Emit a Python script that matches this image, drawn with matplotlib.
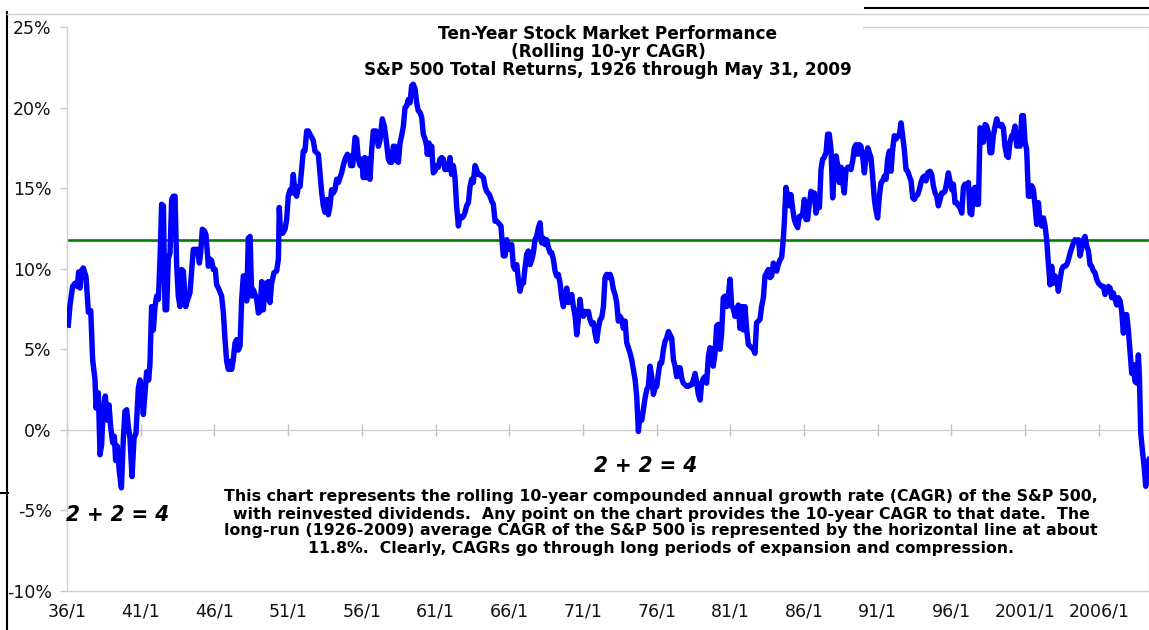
import matplotlib
matplotlib.use("Agg")
import matplotlib.pyplot as plt
from matplotlib.lines import Line2D

# Rolling 10-yr CAGR of S&P 500 total returns (%)
dates_1936 = [1936.09, 1936.20, 1936.38, 1936.54, 1936.70, 1936.79, 1936.88, 1936.99,
              1937.11, 1937.29, 1937.45, 1937.61, 1937.74, 1937.90, 1937.97, 1938.13,
              1938.24, 1938.35, 1938.46, 1938.60, 1938.74, 1938.85, 1938.96, 1939.10,
              1939.21, 1939.30, 1939.41, 1939.55, 1939.69, 1939.82, 1939.93, 1940.05,
              1940.16, 1940.27, 1940.41, 1940.55, 1940.68, 1940.84, 1940.95, 1941.09,
              1941.18, 1941.31, 1941.40, 1941.54, 1941.63, 1941.74, 1941.86, 1941.97,
              1942.08, 1942.20, 1942.31, 1942.42, 1942.54, 1942.65, 1942.76, 1942.87,
              1942.99, 1943.10, 1943.21, 1943.33, 1943.44, 1943.55, 1943.67, 1943.78,
              1943.89, 1944.05, 1944.19, 1944.34, 1944.46, 1944.57, 1944.73, 1944.86,
              1944.98, 1945.07, 1945.18, 1945.32, 1945.43, 1945.59, 1945.70, 1945.81,
              1945.93, 1946.06, 1946.15, 1946.27, 1946.49, 1946.61, 1946.72, 1946.83,
              1946.95, 1947.06, 1947.17, 1947.28, 1947.40, 1947.51, 1947.62, 1947.74,
              1947.85, 1947.96, 1948.08, 1948.19, 1948.30, 1948.42, 1948.53, 1948.64,
              1948.87, 1948.98, 1949.09, 1949.21, 1949.32, 1949.43, 1949.55, 1949.66,
              1949.77]
cagr_1936 = [6.5, 7.7, 8.9, 9.1, 8.9, 9.8, 8.8, 9.9,
             10.05, 9.5, 7.3, 7.4, 4.35, 3.1, 1.35, 2.3,
             -1.55, -0.9, 1.35, 2.1, 0.6, 1.55, 0.2, -0.8,
             -0.4, -1.9, -1.0, -2.6, -3.6, -0.6, 1.15, 1.25,
             0.2, -0.5, -2.9, -0.5, -0.2, 2.6, 3.1, 1.85,
             0.95, 2.5, 3.6, 3.1, 4.15, 7.65, 6.2, 7.65,
             8.3, 8.1, 10.6, 14.0, 13.9, 7.45, 7.45, 10.6,
             11.0, 14.3, 14.5, 14.5, 10.2, 8.3, 7.65, 9.95,
             9.85, 7.65, 8.1, 8.5, 9.95, 11.2, 11.2, 11.2,
             10.35, 11.0, 12.45, 12.35, 12.1, 10.15, 10.6, 10.5,
             9.95, 9.95, 9.0, 8.8, 8.3, 7.25, 5.6, 4.25,
             3.75, 4.25, 3.75, 4.35, 5.4, 5.6, 4.95, 5.2,
             8.1, 9.55, 9.55, 8.0, 11.9, 12.0, 8.3, 8.7,
             8.1, 7.25, 7.35, 9.2, 7.45, 9.1, 8.1, 9.2,
             7.9]

dates_1950 = [1949.88, 1950.04, 1950.22, 1950.34, 1950.40, 1950.49, 1950.63, 1950.79,
              1950.90, 1951.01, 1951.13, 1951.24, 1951.35, 1951.47, 1951.58, 1951.69,
              1951.81, 1951.92, 1952.03, 1952.14, 1952.26, 1952.37, 1952.48, 1952.60,
              1952.71, 1952.82, 1952.94, 1953.05, 1953.16, 1953.28, 1953.39, 1953.50,
              1953.61, 1953.73, 1953.84, 1953.95, 1954.07, 1954.18, 1954.29, 1954.41,
              1954.52, 1954.63, 1954.74, 1954.86, 1955.02, 1955.15, 1955.24, 1955.38,
              1955.54, 1955.65, 1955.76, 1955.88, 1955.99, 1956.10, 1956.21, 1956.33,
              1956.44, 1956.55, 1956.67, 1956.78, 1956.96, 1957.12, 1957.23, 1957.39,
              1957.53, 1957.69, 1957.80, 1957.91, 1958.02, 1958.14, 1958.25, 1958.36,
              1958.48, 1958.59, 1958.70, 1958.82, 1958.93, 1959.04, 1959.15, 1959.27,
              1959.38, 1959.49, 1959.61, 1959.72, 1959.83, 1959.95, 1960.06, 1960.17,
              1960.29, 1960.40, 1960.44, 1960.56, 1960.62, 1960.74, 1960.85, 1960.96,
              1961.08, 1961.19, 1961.30, 1961.42, 1961.53, 1961.64, 1961.76, 1961.87,
              1961.98, 1962.09, 1962.21, 1962.32, 1962.43, 1962.55, 1962.66, 1962.77,
              1962.89, 1963.00, 1963.11, 1963.23, 1963.34, 1963.45, 1963.56, 1963.68,
              1963.79, 1963.90, 1964.02]
cagr_1950 = [9.1, 9.75, 9.85, 10.6, 13.8, 12.2, 12.2, 12.45,
             13.05, 14.5, 14.9, 14.7, 15.85, 14.7, 14.5, 15.1,
             15.1, 16.2, 17.3, 17.3, 18.55, 18.55, 18.35, 18.15,
             17.95, 17.3, 17.2, 17.1, 15.95, 14.7, 13.9, 13.5,
             14.3, 13.35, 13.9, 14.9, 14.7, 14.9, 15.55, 15.35,
             15.65, 15.95, 16.4, 16.8, 17.1, 17.0, 16.4, 16.4,
             18.15, 18.05, 16.8, 16.4, 16.8, 15.65, 16.9, 15.65,
             16.8, 15.55, 17.4, 18.55, 18.55, 17.6, 17.95, 19.3,
             18.85, 17.7, 16.8, 16.6, 16.6, 17.6, 17.6, 16.7,
             16.6, 17.8, 18.25, 18.85, 20.0, 20.1, 20.5, 20.3,
             21.35, 21.45, 21.15, 20.3, 19.8, 19.7, 19.4, 18.35,
             18.05, 17.6, 17.1, 17.8, 17.1, 17.6, 15.95, 16.05,
             16.4, 16.3, 16.8, 16.9, 16.8, 16.15, 16.45, 16.15,
             16.9, 15.85, 16.4, 15.65, 13.9, 12.65, 13.25, 13.15,
             13.25, 13.5, 13.9, 14.1, 15.1, 15.55, 15.35, 16.4,
             16.15, 15.85, 15.85]

dates_1964 = [1964.25, 1964.36, 1964.47, 1964.65, 1964.81, 1964.92, 1965.04, 1965.15,
              1965.26, 1965.44, 1965.54, 1965.60, 1965.72, 1965.83, 1965.94, 1966.06,
              1966.17, 1966.28, 1966.39, 1966.51, 1966.62, 1966.73, 1966.85, 1966.96,
              1967.07, 1967.19, 1967.30, 1967.41, 1967.53, 1967.64, 1967.75, 1967.86,
              1967.98, 1968.09, 1968.20, 1968.32, 1968.43, 1968.54, 1968.66, 1968.77,
              1968.88, 1969.00, 1969.11, 1969.22, 1969.33, 1969.45, 1969.56, 1969.67,
              1969.79, 1969.90, 1970.01, 1970.13, 1970.24, 1970.35, 1970.47, 1970.58,
              1970.69, 1970.80, 1970.92, 1971.03, 1971.14, 1971.26, 1971.37, 1971.48,
              1971.60, 1971.71, 1971.82, 1971.93, 1972.05, 1972.16, 1972.27, 1972.39,
              1972.50, 1972.61, 1972.73, 1972.84, 1972.95, 1973.07, 1973.18, 1973.29,
              1973.40, 1973.52, 1973.63, 1973.74, 1973.86, 1973.97, 1974.08, 1974.20,
              1974.31, 1974.42, 1974.54, 1974.65, 1974.76, 1974.87, 1974.99, 1975.10,
              1975.21, 1975.33, 1975.44, 1975.55, 1975.67, 1975.78, 1975.89, 1976.01,
              1976.12, 1976.23, 1976.34, 1976.46, 1976.57, 1976.68, 1976.80, 1976.91,
              1977.02, 1977.14, 1977.25, 1977.36, 1977.48, 1977.59, 1977.70, 1977.81,
              1977.93, 1978.04, 1978.15, 1978.27, 1978.38, 1978.49, 1978.61, 1978.72,
              1978.83, 1978.95]
cagr_1964 = [15.65, 15.1, 14.8, 14.6, 14.2, 14.0, 12.95, 12.95,
             12.85, 12.65, 11.4, 10.8, 10.8, 11.8, 11.2, 11.4,
             11.5, 10.15, 9.95, 10.25, 9.3, 8.6, 9.1, 9.1,
             10.05, 10.9, 11.1, 10.25, 10.55, 11.0, 11.8, 12.0,
             12.55, 12.85, 11.6, 11.9, 11.5, 11.8, 11.3, 11.0,
             11.0, 10.55, 9.85, 9.55, 9.65, 9.1, 8.2, 7.65,
             8.3, 8.8, 7.9, 8.0, 8.4, 7.65, 7.05, 5.9,
             6.85, 8.1, 7.15, 7.05, 7.35, 7.25, 7.35, 6.85,
             6.55, 6.65, 6.0, 5.5, 6.3, 6.85, 6.95, 7.65,
             9.45, 9.65, 9.45, 9.65, 9.35, 8.7, 8.4, 7.9,
             6.75, 7.05, 6.85, 6.3, 6.75, 5.4, 5.1, 4.75,
             4.35, 3.75, 3.1, 2.05, -0.1, 0.85, 0.6, 1.25,
             1.95, 2.5, 2.7, 3.95, 3.3, 2.2, 2.6, 2.7,
             3.5, 4.15, 4.15, 5.0, 5.5, 5.7, 6.1, 5.9,
             5.7, 4.35, 3.95, 3.3, 3.85, 3.85, 3.2, 2.9,
             2.8, 2.7, 2.7, 2.8, 2.8, 3.1, 3.5, 2.9,
             2.2, 1.85]

dates_1979 = [1979.05, 1979.17, 1979.28, 1979.39, 1979.51, 1979.62, 1979.73, 1979.84,
              1979.96, 1980.07, 1980.18, 1980.30, 1980.41, 1980.52, 1980.64, 1980.75,
              1980.86, 1980.98, 1981.09, 1981.20, 1981.31, 1981.43, 1981.54, 1981.65,
              1981.77, 1981.88, 1981.99, 1982.11, 1982.22, 1982.33, 1982.45, 1982.56,
              1982.67, 1982.78, 1982.90, 1983.01, 1983.12, 1983.24, 1983.35, 1983.46,
              1983.58, 1983.69, 1983.80, 1983.92, 1984.03, 1984.14, 1984.25, 1984.37,
              1984.48, 1984.59, 1984.66, 1984.77, 1984.89, 1985.00, 1985.11, 1985.23,
              1985.34, 1985.45, 1985.57, 1985.68, 1985.79, 1985.90, 1986.02, 1986.13,
              1986.24, 1986.36, 1986.47, 1986.58, 1986.70, 1986.81, 1986.92, 1987.04,
              1987.15, 1987.26, 1987.37, 1987.49, 1987.60, 1987.71, 1987.83, 1987.94,
              1988.05, 1988.17, 1988.28, 1988.39, 1988.51, 1988.62, 1988.73, 1988.85,
              1988.96, 1989.07, 1989.18, 1989.30, 1989.41, 1989.52, 1989.64, 1989.75,
              1989.86, 1989.98, 1990.09, 1990.20, 1990.32, 1990.43, 1990.54, 1990.65,
              1990.77, 1990.88, 1990.99, 1991.11, 1991.22, 1991.33, 1991.45, 1991.56,
              1991.67, 1991.79, 1991.90, 1992.01, 1992.12, 1992.24, 1992.35, 1992.46,
              1992.58, 1992.69, 1992.80, 1992.92, 1993.03, 1993.14, 1993.26, 1993.37,
              1993.48, 1993.59, 1993.71, 1993.82, 1993.93, 1994.05, 1994.16, 1994.27,
              1994.39, 1994.54]
cagr_1979 = [2.9, 3.2, 3.3, 2.9, 4.55, 5.1, 5.0, 3.95,
             4.75, 6.45, 6.55, 5.0, 6.0, 8.2, 8.3, 7.65,
             8.3, 9.35, 7.65, 7.55, 7.05, 7.05, 7.75, 6.3,
             7.65, 6.2, 7.65, 6.2, 5.3, 5.2, 5.1, 5.0,
             4.75, 6.65, 6.75, 6.85, 7.65, 8.2, 9.55, 9.75,
             9.95, 9.45, 9.55, 10.35, 9.95, 9.85, 10.25, 10.55,
             10.7, 11.8, 12.85, 15.05, 14.5, 13.9, 14.6, 13.7,
             13.05, 12.75, 12.55, 13.25, 13.25, 13.35, 14.3, 13.05,
             13.05, 14.0, 14.8, 14.6, 14.7, 13.45, 13.9, 13.8,
             16.15, 16.8, 16.9, 17.2, 18.35, 18.35, 17.4, 14.4,
             16.05, 17.0, 16.4, 15.35, 16.3, 15.35, 14.7, 16.15,
             16.3, 16.3, 16.15, 16.7, 17.5, 17.7, 17.1, 17.7,
             17.6, 16.9, 15.95, 16.9, 17.5, 17.2, 16.9, 15.75,
             14.3, 13.6, 13.15, 14.5, 15.35, 15.45, 15.75, 15.55,
             16.8, 17.3, 16.05, 17.4, 18.25, 18.05, 18.25, 18.25,
             19.05, 18.25, 17.4, 16.15, 16.05, 15.75, 15.45, 14.4,
             14.3, 14.5, 14.6, 14.9, 15.35, 15.65, 15.75, 15.45,
             15.95, 16.05]

dates_1994 = [1994.66, 1994.77, 1994.89, 1995.00, 1995.11, 1995.23, 1995.34, 1995.45,
              1995.56, 1995.68, 1995.79, 1995.90, 1996.02, 1996.13, 1996.24, 1996.36,
              1996.47, 1996.58, 1996.70, 1996.81, 1996.92, 1997.03, 1997.15, 1997.26,
              1997.37, 1997.49, 1997.60, 1997.71, 1997.83, 1997.94, 1998.05, 1998.16,
              1998.28, 1998.39, 1998.50, 1998.62, 1998.73, 1998.84, 1998.96, 1999.07,
              1999.18, 1999.30, 1999.41, 1999.52, 1999.63, 1999.75, 1999.86, 1999.97,
              2000.09, 2000.20, 2000.31, 2000.43, 2000.54, 2000.65, 2000.77, 2000.88,
              2000.99, 2001.10, 2001.22, 2001.33, 2001.44, 2001.56, 2001.67, 2001.78,
              2001.90, 2002.01, 2002.12, 2002.24, 2002.35, 2002.46, 2002.57, 2002.69,
              2002.80, 2002.91, 2003.03, 2003.14, 2003.25, 2003.37, 2003.48, 2003.59,
              2003.71, 2003.82, 2003.93, 2004.04, 2004.16, 2004.27, 2004.38, 2004.50,
              2004.61, 2004.72, 2004.84, 2004.95, 2005.06, 2005.18, 2005.29, 2005.40,
              2005.51, 2005.63, 2005.74, 2005.85, 2005.97, 2006.08, 2006.19, 2006.31,
              2006.42, 2006.53, 2006.65, 2006.76, 2006.87, 2006.98, 2007.10, 2007.21,
              2007.32, 2007.44, 2007.55, 2007.66, 2007.78, 2007.89, 2008.00, 2008.12,
              2008.23, 2008.34, 2008.45, 2008.57, 2008.68, 2008.75, 2008.84, 2008.95,
              2009.07, 2009.18, 2009.29, 2009.40]
cagr_1994 = [15.85, 15.15, 14.7, 14.5, 13.9, 14.3, 14.7, 14.7,
             14.8, 15.35, 15.95, 15.45, 14.9, 15.25, 14.1, 14.1,
             13.9, 13.8, 13.45, 15.05, 15.25, 15.15, 15.35, 13.45,
             13.35, 14.9, 15.05, 14.0, 14.0, 18.75, 18.65, 17.85,
             18.95, 18.85, 18.45, 17.2, 17.2, 18.25, 18.85, 19.3,
             18.95, 18.85, 18.95, 18.75, 17.6, 17.0, 16.9, 17.85,
             18.25, 18.35, 18.85, 17.6, 18.45, 17.6, 19.5, 19.5,
             17.85, 17.4, 14.5, 14.5, 15.15, 14.9, 13.9, 12.75,
             14.1, 12.85, 12.65, 13.15, 12.65, 11.8, 10.35, 9.0,
             10.15, 9.1, 9.55, 9.35, 8.6, 9.35, 9.95, 10.15,
             10.15, 10.25, 10.55, 10.95, 11.3, 11.6, 11.8, 11.7,
             11.8, 10.8, 11.3, 11.8, 12.0, 11.4, 11.1, 10.25,
             10.15, 9.85, 9.75, 9.35, 9.1, 9.0, 8.9, 8.9,
             8.4, 8.7, 8.9, 8.8, 8.2, 8.5, 8.1, 7.75,
             8.2, 8.0, 7.35, 6.0, 7.15, 7.15, 6.2, 4.75,
             3.5, 4.05, 3.0, 2.9, 4.65, 3.3, -0.2, -1.25,
             -2.3, -3.5, -2.05, -1.85]

avg_cagr = 11.8
tick_years = [1936, 1941, 1946, 1951, 1956, 1961, 1966, 1971, 1976, 1981, 1986,
              1991, 1996, 2001, 2006]
tick_labels = ["36/1", "41/1", "46/1", "51/1", "56/1", "61/1", "66/1", "71/1",
               "76/1", "81/1", "86/1", "91/1", "96/1", "2001/1", "2006/1"]
y_ticks = [-10, -5, 0, 5, 10, 15, 20, 25]

title_lines = ["Ten-Year Stock Market Performance",
               "(Rolling 10-yr CAGR)",
               "S&P 500 Total Returns, 1926 through May 31, 2009"]
note_lines = ["This chart represents the rolling 10-year compounded annual growth rate (CAGR) of the S&P 500,",
              "with reinvested dividends.  Any point on the chart provides the 10-year CAGR to that date.  The",
              "long-run (1926-2009) average CAGR of the S&P 500 is represented by the horizontal line at about",
              "11.8%.  Clearly, CAGRs go through long periods of expansion and compression."]

dates = dates_1936 + dates_1950 + dates_1964 + dates_1979 + dates_1994
cagr = cagr_1936 + cagr_1950 + cagr_1964 + cagr_1979 + cagr_1994

W, H = 1149, 630
fig = plt.figure(figsize=(W / 100, H / 100), dpi=100)
ax = fig.add_axes([67 / W, 1 - 591 / H, 1082 / W, 564 / H])

ax.plot(dates, cagr, color="#0000FF", lw=3.9, solid_joinstyle="round", zorder=3)
ax.axhline(avg_cagr, color="#008000", lw=1.9, zorder=2)

ax.set_xlim(1936, 2009.4)
ax.set_ylim(-10, 25)
ax.set_yticks(y_ticks)
ax.set_yticklabels(["%d%%" % v for v in y_ticks])
ax.set_xticks(tick_years)
ax.set_xticklabels(tick_labels)
ax.tick_params(axis="y", direction="out", length=5, width=1, color="#c8c8c8",
               labelsize=12.5, pad=6, labelcolor="#111111")
ax.tick_params(axis="x", length=0, labelsize=12.5, pad=8, labelcolor="#111111")
for s in ax.spines.values():
    s.set_color("#d0d0d0")
    s.set_linewidth(1)
# plot-area top border is hidden behind the title box except at the far right
ax.spines["top"].set_visible(False)
ax.add_artist(Line2D([(863 - 67) / 1082, 1], [1, 1], transform=ax.transAxes,
                     color="#d0d0d0", lw=1, clip_on=False))

# category axis crosses at 0%
zero_ax = ax.secondary_xaxis(10 / 35)
zero_ax.set_xticks(tick_years)
zero_ax.tick_params(axis="x", direction="inout", length=9, width=1, color="#c0c0c0",
                    labelbottom=False)
zero_ax.spines["bottom"].set_color("#c8c8c8")

# titles and notes
for i, t in enumerate(title_lines):
    fig.text(608 / W, 1 - (34 + 18 * i) / H, t, ha="center", va="center",
             fontsize=12.2, fontweight="bold")
for i, t in enumerate(note_lines):
    fig.text(661 / W, 1 - (497 + 17 * i) / H, t, ha="center", va="center",
             fontsize=11.3, fontweight="bold")
for x, y in [(118, 515), (646, 466)]:
    fig.text(x / W, 1 - y / H, "2 + 2 = 4", ha="center", va="center", fontsize=16,
             fontweight="bold", style="italic", fontstretch="condensed",
             family=["DejaVu Sans"])

# chart area frame remnants
frame = dict(transform=fig.transFigure, color="black", lw=1.5)
fig.add_artist(Line2D([7 / W, 7 / W], [0, 1 - 12 / H], **frame))
fig.add_artist(Line2D([0, 8 / W], [1 - 493 / H, 1 - 493 / H], **frame))
fig.add_artist(Line2D([865 / W, 1], [1 - 8 / H, 1 - 8 / H], **frame))
fig.add_artist(Line2D([7 / W, 1], [1 - 14 / H, 1 - 14 / H], transform=fig.transFigure,
                      color="#d0d0d0", lw=1))

fig.savefig("out.png", dpi=100)
